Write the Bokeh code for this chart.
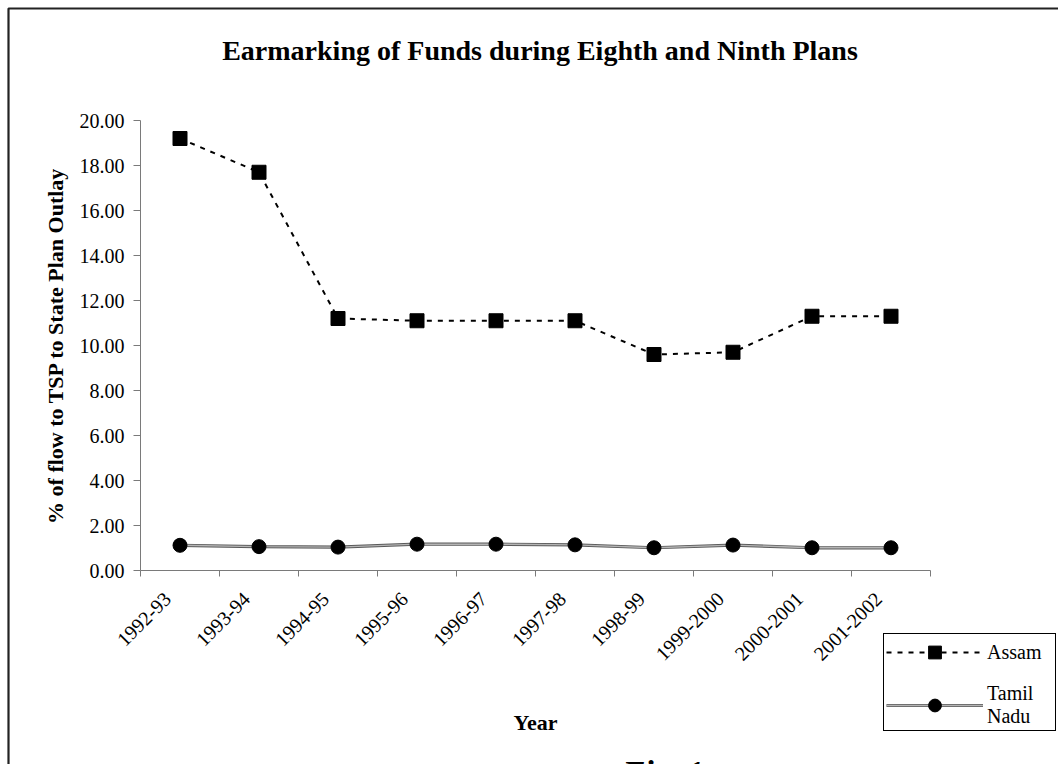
import math
from bokeh.plotting import figure
from bokeh.models import (Range1d, FixedTicker, PrintfTickFormatter, Legend, LegendItem,
                          BoxAnnotation, Label)
from bokeh.embed import file_html
from bokeh.resources import INLINE

years = ["1992-93", "1993-94", "1994-95", "1995-96", "1996-97", "1997-98",
         "1998-99", "1999-2000", "2000-2001", "2001-2002"]
assam = [19.2, 17.7, 11.2, 11.1, 11.1, 11.1, 9.6, 9.7, 11.3, 11.3]
tamil_nadu = [1.12, 1.06, 1.04, 1.17, 1.17, 1.14, 1.01, 1.13, 1.01, 1.01]
y_ticks = [0, 2, 4, 6, 8, 10, 12, 14, 16, 18, 20]

FONT = "Liberation Serif"
AXIS_GREY = "#7a7a7a"

# layout (canvas pixels)
W, H = 1058, 764
PL, PR, PT, PB = 140, 930, 120, 570
NCAT = len(years)
YMAX = 20
xs = (PR - PL) / NCAT
ys = (PB - PT) / YMAX
x_start, x_end = -PL / xs, NCAT + (W - PR) / xs
y_start, y_end = -(H - PB) / ys, YMAX + PT / ys


def cx(px):
    return x_start + px / xs


def cy(py):
    return y_end - py / ys


xpos = [i + 0.5 for i in range(NCAT)]
label_pos = [v - 0.16 for v in xpos]
bounds = list(range(NCAT + 1))

p = figure(width=W, height=H, x_range=Range1d(x_start, x_end), y_range=Range1d(y_start, y_end),
           output_backend="svg", toolbar_location=None,
           min_border=0, min_border_left=0, min_border_right=0,
           min_border_top=0, min_border_bottom=0)
p.grid.visible = False
p.outline_line_color = None
p.background_fill_color = "white"
p.border_fill_color = "white"

# x axis (fixed at y = 0)
xa = p.xaxis[0]
xa.fixed_location = 0
xa.bounds = (0, NCAT)
xa.ticker = FixedTicker(ticks=label_pos, minor_ticks=bounds)
xa.major_label_overrides = {xv: lab for xv, lab in zip(label_pos, years)}
xa.major_label_orientation = math.pi / 4
xa.major_tick_line_color = None
xa.major_tick_out = 6
xa.major_tick_in = 0
xa.minor_tick_line_color = AXIS_GREY
xa.minor_tick_out = 6
xa.minor_tick_in = 0
xa.axis_line_color = AXIS_GREY
xa.major_label_text_font = FONT
xa.major_label_text_font_size = "20px"
xa.major_label_text_color = "black"
xa.major_label_standoff = 19
xa.axis_label = "Year"
xa.axis_label_text_font = FONT
xa.axis_label_text_font_size = "22px"
xa.axis_label_text_font_style = "bold"
xa.axis_label_text_color = "black"
xa.axis_label_standoff = 40

# y axis (fixed at x = 0)
ya = p.yaxis[0]
ya.fixed_location = 0
ya.bounds = (0, YMAX)
ya.ticker = FixedTicker(ticks=y_ticks)
ya.formatter = PrintfTickFormatter(format="%.2f")
ya.minor_tick_line_color = None
ya.major_tick_out = 7
ya.major_tick_in = 0
ya.major_tick_line_color = AXIS_GREY
ya.axis_line_color = AXIS_GREY
ya.major_label_text_font = FONT
ya.major_label_text_font_size = "20px"
ya.major_label_text_color = "black"
ya.major_label_standoff = 9
ya.axis_label = "% of flow to TSP to State Plan Outlay"
ya.axis_label_text_font = FONT
ya.axis_label_text_font_size = "22px"
ya.axis_label_text_font_style = "bold"
ya.axis_label_text_color = "black"
ya.axis_label_standoff = 9

# series
a_line = p.line(xpos, assam, line_color="black", line_width=2, line_dash="5 6")
a_pts = p.scatter(xpos, assam, marker="square", size=14, fill_color="black", line_color="black")
t_outer = p.line(xpos, tamil_nadu, line_color="#5a5a5a", line_width=3.2)
t_inner = p.line(xpos, tamil_nadu, line_color="#b4b4b4", line_width=1.4)
t_pts = p.scatter(xpos, tamil_nadu, marker="circle", size=14, fill_color="black", line_color="black")

legend = Legend(items=[LegendItem(label="Assam", renderers=[a_line, a_pts]),
                       LegendItem(label="Tamil\nNadu", renderers=[t_outer, t_inner, t_pts])],
                location=(883, H - 731), orientation="vertical",
                border_line_color="black", border_line_width=1, border_line_alpha=1,
                background_fill_color="white", background_fill_alpha=1,
                label_text_font=FONT, label_text_font_size="20px", label_text_color="black",
                glyph_width=97, glyph_height=32, padding=2, spacing=14,
                label_standoff=4, label_width=66, margin=0)
p.add_layout(legend)

# title
title = Label(x=cx(539.5), y=cy(50), text="Earmarking of Funds during Eighth and Ninth Plans",
              text_font=FONT, text_font_style="bold", text_font_size="28px",
              text_align="center", text_baseline="middle", text_color="black")
p.add_layout(title)

# outer frame (top and left edges visible)
frame = BoxAnnotation(left=cx(8), right=cx(W + 60), top=cy(8), bottom=cy(H + 60),
                      fill_color=None, fill_alpha=0,
                      line_color="#222222", line_alpha=1, line_width=2.2)
p.add_layout(frame)

fig_label = Label(x=cx(622), y=cy(754), text="Fig. 1",
                  text_font=FONT, text_font_style="bold italic", text_font_size="33px",
                  text_baseline="top", text_align="left", text_color="black")
p.add_layout(fig_label)

open("out.html", "w").write(file_html(p, INLINE))
